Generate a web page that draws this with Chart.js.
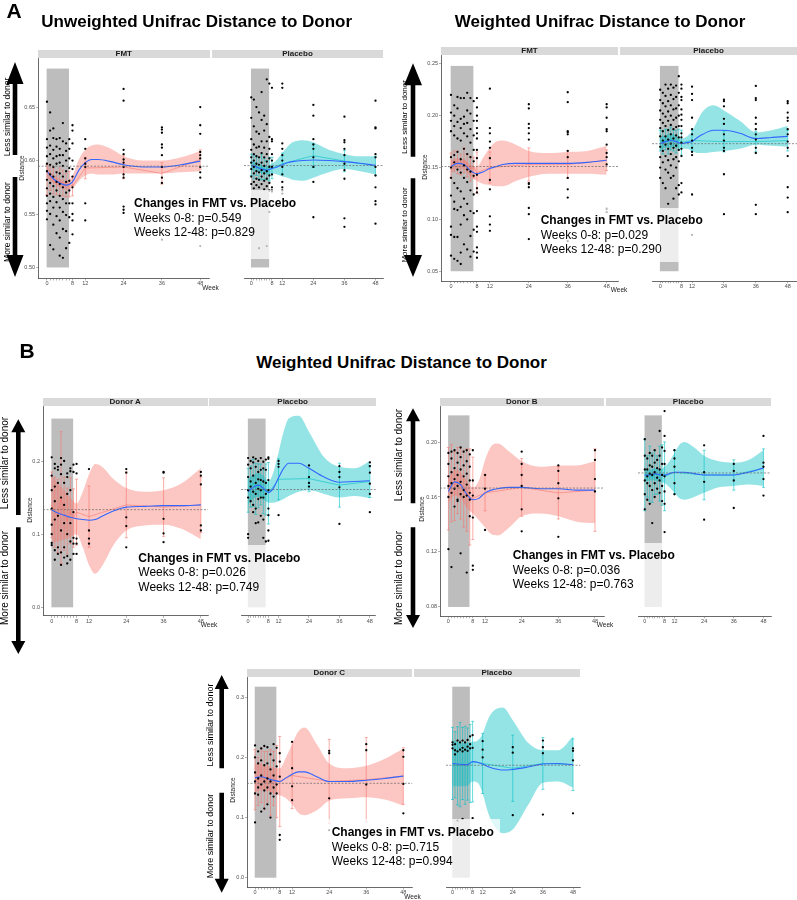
<!DOCTYPE html>
<html>
<head>
<meta charset="utf-8">
<script src="https://cdn.jsdelivr.net/npm/chart.js@4.4.1/dist/chart.umd.min.js"></script>
<style>
html, body { margin: 0; padding: 0; overflow: hidden; background: #fff; }
#fig { position: relative; width: 797px; height: 900px; font-family: "Liberation Sans", Arial, sans-serif; color: #000; }
#fig canvas { position: absolute; }
.t { position: absolute; white-space: nowrap; line-height: 1; }
.c { transform: translate(-50%, -50%); }
.r { transform: translate(-50%, -50%) rotate(-90deg); }
.strip { position: absolute; background: #d9d9d9; color: #1a1a1a; font-weight: bold; font-size: 8px; text-align: center; }
.note { position: absolute; background: rgba(255, 255, 255, 0.72); z-index: 5; }
.nl { position: absolute; white-space: nowrap; font-size: 12px; line-height: 1; transform: translateY(-50%); z-index: 6; }
svg { position: absolute; left: 0; top: 0; }
</style>
</head>
<body>
<div id="fig"></div>
<script>
// ---- data ----
var visitWeeks = [0, 1, 2, 3, 4, 5, 6, 7, 8, 12, 24, 36, 48];
var fitWeeks = [0, 2, 4, 6, 8, 10, 12, 14, 16, 20, 24, 30, 36, 42, 48];
var xTickWeeks = [0, 1, 2, 3, 4, 5, 6, 7, 8, 12, 24, 36, 48];
var xTickLabels = ['0', '', '', '', '', '', '', '', '8', '12', '24', '36', '48'];

var unwYTicks = [0.50, 0.55, 0.60, 0.65];
var unwYLabels = ['0.50', '0.55', '0.60', '0.65'];
var wYTicks = [0.05, 0.10, 0.15, 0.20, 0.25];
var wYLabels = ['0.05', '0.10', '0.15', '0.20', '0.25'];
var daYTicks = [0.0, 0.1, 0.2];
var daYLabels = ['0.0', '0.1', '0.2'];
var dbYTicks = [0.08, 0.12, 0.16, 0.20];
var dbYLabels = ['0.08', '0.12', '0.16', '0.20'];
var dcYTicks = [0.0, 0.1, 0.2, 0.3];
var dcYLabels = ['0.0', '0.1', '0.2', '0.3'];

// reference (dashed) lines: [FMT/donor facet, placebo facet]
var unwRef = [0.5947, 0.5953];
var wRef = [0.151, 0.173];
var daRef = [0.1335, 0.161];
var dbRef = [0.1665, 0.1775];
var dcRef = [0.157, 0.187];

// shaded weeks 0-8 window: [week from, week to, distance from, distance to]
var unwShade = [-0.1, 6.9, 0.50, 0.686];
var wShade = [-0.1, 6.9, 0.05, 0.248];
var daShade = [-0.1, 6.9, 0.0, 0.258];
var dbShade = [-0.1, 6.9, 0.08, 0.2194];
var dcShade = [-0.1, 6.9, 0.0, 0.3177];

var unwP = ['0.549', '0.829'];
var wP = ['0.029', '0.290'];
var daP = ['0.026', '0.749'];
var dbP = ['0.036', '0.763'];
var dcP = ['0.715', '0.994'];

// Unweighted, FMT
var unwFmtPts = [
  [0.655, 0.620, 0.612, 0.604, 0.597, 0.590, 0.582, 0.574, 0.567, 0.560, 0.553, 0.545],
  [0.645, 0.628, 0.614, 0.606, 0.596, 0.587, 0.579, 0.569, 0.562, 0.550, 0.521],
  [0.630, 0.621, 0.610, 0.602, 0.594, 0.585, 0.576, 0.566, 0.556, 0.540, 0.517],
  [0.620, 0.613, 0.604, 0.597, 0.589, 0.580, 0.572, 0.561, 0.548, 0.532],
  [0.621, 0.611, 0.605, 0.598, 0.588, 0.578, 0.567, 0.556, 0.544, 0.528, 0.511],
  [0.635, 0.618, 0.605, 0.595, 0.585, 0.575, 0.564, 0.552, 0.536, 0.509],
  [0.616, 0.609, 0.600, 0.590, 0.580, 0.570, 0.560, 0.549, 0.534, 0.518],
  [0.620, 0.611, 0.602, 0.593, 0.581, 0.572, 0.560, 0.547, 0.523],
  [0.633, 0.628, 0.616, 0.600, 0.592, 0.585, 0.575, 0.560, 0.550, 0.544, 0.531],
  [0.620, 0.611, 0.602, 0.597, 0.594, 0.560, 0.544],
  [0.667, 0.656, 0.610, 0.606, 0.601, 0.598, 0.594, 0.587, 0.584, 0.557, 0.554, 0.551],
  [0.631, 0.629, 0.626, 0.615, 0.612, 0.605, 0.594, 0.584, 0.579, 0.526],
  [0.650, 0.633, 0.625, 0.608, 0.605, 0.602, 0.594, 0.589, 0.584, 0.520]
];
var unwFmtMean = [0.582, 0.584, 0.581, 0.579, 0.580, 0.579, 0.577, 0.578, 0.576, 0.593, 0.594, 0.588, 0.601];
var unwFmtErr = [0.014, 0.012, 0.012, 0.011, 0.013, 0.012, 0.011, 0.012, 0.009, 0.010, 0.011, 0.010, 0.009];
var unwFmtFit = [0.590, 0.583, 0.579, 0.577, 0.580, 0.591, 0.598, 0.601, 0.601, 0.599, 0.596, 0.594, 0.594, 0.596, 0.5995];
var unwFmtHi = [0.595, 0.587, 0.583, 0.581, 0.586, 0.601, 0.610, 0.614, 0.615, 0.611, 0.604, 0.600, 0.600, 0.603, 0.609];
var unwFmtLo = [0.585, 0.579, 0.575, 0.573, 0.574, 0.581, 0.586, 0.588, 0.587, 0.587, 0.588, 0.588, 0.588, 0.589, 0.590];

// Unweighted, placebo
var unwPboPts = [
  [0.659, 0.640, 0.620, 0.610, 0.603, 0.598, 0.592, 0.585, 0.578],
  [0.657, 0.632, 0.615, 0.606, 0.600, 0.594, 0.588, 0.580, 0.574],
  [0.650, 0.627, 0.612, 0.604, 0.597, 0.590, 0.583, 0.577],
  [0.645, 0.625, 0.613, 0.603, 0.596, 0.589, 0.582, 0.575, 0.518],
  [0.664, 0.638, 0.618, 0.607, 0.598, 0.591, 0.585, 0.578],
  [0.642, 0.628, 0.612, 0.603, 0.595, 0.588, 0.581, 0.573],
  [0.676, 0.634, 0.618, 0.606, 0.599, 0.590, 0.583, 0.576, 0.520],
  [0.672, 0.622, 0.611, 0.602, 0.594, 0.586, 0.579, 0.572, 0.552],
  [0.668, 0.620, 0.618, 0.606, 0.600, 0.594, 0.587, 0.575, 0.572, 0.571],
  [0.672, 0.668, 0.616, 0.611, 0.605, 0.600, 0.594, 0.587, 0.580, 0.575, 0.572, 0.569],
  [0.652, 0.642, 0.620, 0.615, 0.611, 0.603, 0.594, 0.580, 0.547],
  [0.641, 0.619, 0.617, 0.611, 0.605, 0.597, 0.591, 0.583, 0.546, 0.538],
  [0.656, 0.631, 0.630, 0.606, 0.603, 0.594, 0.586, 0.575, 0.562, 0.559, 0.541]
];
var unwPboMean = [0.596, 0.594, 0.595, 0.593, 0.594, 0.592, 0.591, 0.592, 0.593, 0.597, 0.6045, 0.5995, 0.595];
var unwPboErr = [0.010, 0.011, 0.009, 0.010, 0.012, 0.010, 0.009, 0.011, 0.010, 0.010, 0.011, 0.010, 0.009];
var unwPboFit = [0.5955, 0.594, 0.592, 0.591, 0.5925, 0.594, 0.596, 0.598, 0.599, 0.600, 0.6005, 0.600, 0.599, 0.5975, 0.5955];
var unwPboHi = [0.600, 0.598, 0.596, 0.595, 0.597, 0.601, 0.607, 0.613, 0.617, 0.619, 0.617, 0.610, 0.606, 0.604, 0.604];
var unwPboLo = [0.591, 0.590, 0.588, 0.587, 0.588, 0.587, 0.585, 0.584, 0.582, 0.581, 0.584, 0.589, 0.592, 0.590, 0.587];

// Weighted, FMT
var wFmtPts = [
  [0.220, 0.203, 0.195, 0.185, 0.160, 0.150, 0.140, 0.123, 0.093, 0.085, 0.065],
  [0.210, 0.200, 0.190, 0.181, 0.162, 0.155, 0.135, 0.117, 0.110, 0.083, 0.062],
  [0.218, 0.207, 0.194, 0.178, 0.165, 0.148, 0.130, 0.109, 0.083, 0.060],
  [0.217, 0.197, 0.188, 0.176, 0.158, 0.145, 0.127, 0.112, 0.095, 0.068, 0.057],
  [0.217, 0.199, 0.192, 0.183, 0.168, 0.152, 0.140, 0.120, 0.104, 0.076],
  [0.222, 0.205, 0.193, 0.180, 0.163, 0.148, 0.136, 0.115, 0.100, 0.071],
  [0.217, 0.202, 0.187, 0.174, 0.160, 0.146, 0.128, 0.108, 0.084, 0.064],
  [0.214, 0.195, 0.181, 0.167, 0.156, 0.142, 0.124, 0.106, 0.090, 0.069],
  [0.217, 0.208, 0.200, 0.195, 0.188, 0.183, 0.178, 0.167, 0.159, 0.143, 0.130, 0.126, 0.108, 0.093, 0.088, 0.073, 0.068, 0.063],
  [0.226, 0.188, 0.183, 0.175, 0.169, 0.159, 0.138, 0.129, 0.103, 0.095, 0.089],
  [0.211, 0.207, 0.192, 0.188, 0.183, 0.177, 0.135, 0.134, 0.131, 0.111, 0.105, 0.081],
  [0.2226, 0.213, 0.185, 0.184, 0.182, 0.166, 0.160, 0.140, 0.129, 0.121, 0.079],
  [0.211, 0.208, 0.198, 0.187, 0.185, 0.172, 0.164, 0.160, 0.153, 0.110, 0.107]
];
var wFmtMean = [0.152, 0.156, 0.155, 0.153, 0.157, 0.152, 0.149, 0.150, 0.145, 0.150, 0.153, 0.153, 0.157];
var wFmtErr = [0.012, 0.010, 0.011, 0.010, 0.012, 0.011, 0.012, 0.010, 0.020, 0.015, 0.016, 0.013, 0.010];
var wFmtFit = [0.151, 0.154, 0.153, 0.147, 0.144, 0.146, 0.149, 0.151, 0.153, 0.154, 0.154, 0.154, 0.154, 0.155, 0.157];
var wFmtHi = [0.157, 0.159, 0.158, 0.153, 0.151, 0.160, 0.169, 0.175, 0.176, 0.172, 0.166, 0.164, 0.165, 0.166, 0.171];
var wFmtLo = [0.145, 0.149, 0.148, 0.141, 0.137, 0.134, 0.133, 0.132, 0.132, 0.137, 0.141, 0.144, 0.144, 0.144, 0.143];

// Weighted, placebo
var wPboPts = [
  [0.225, 0.215, 0.205, 0.196, 0.188, 0.180, 0.170, 0.160, 0.150, 0.140],
  [0.222, 0.212, 0.202, 0.193, 0.185, 0.176, 0.166, 0.155, 0.135],
  [0.230, 0.219, 0.209, 0.199, 0.190, 0.180, 0.172, 0.161, 0.148, 0.130],
  [0.226, 0.214, 0.204, 0.195, 0.186, 0.177, 0.168, 0.157, 0.145, 0.115],
  [0.230, 0.220, 0.210, 0.200, 0.191, 0.182, 0.173, 0.163, 0.152, 0.140],
  [0.227, 0.216, 0.206, 0.196, 0.187, 0.178, 0.169, 0.158, 0.142, 0.120],
  [0.229, 0.218, 0.207, 0.198, 0.189, 0.181, 0.171, 0.160, 0.150, 0.130],
  [0.238, 0.222, 0.210, 0.200, 0.190, 0.179, 0.167, 0.156, 0.133, 0.124],
  [0.230, 0.226, 0.218, 0.215, 0.206, 0.201, 0.196, 0.190, 0.183, 0.179, 0.174, 0.168, 0.161, 0.135, 0.126],
  [0.228, 0.221, 0.215, 0.198, 0.187, 0.182, 0.176, 0.169, 0.165, 0.162, 0.124, 0.085],
  [0.2155, 0.214, 0.209, 0.197, 0.192, 0.182, 0.176, 0.169, 0.166, 0.1435, 0.105],
  [0.2287, 0.217, 0.215, 0.198, 0.192, 0.187, 0.182, 0.177, 0.169, 0.164, 0.114, 0.105],
  [0.214, 0.212, 0.203, 0.198, 0.195, 0.187, 0.182, 0.175, 0.169, 0.161, 0.131, 0.121, 0.107]
];
var wPboMean = [0.176, 0.174, 0.177, 0.175, 0.178, 0.176, 0.175, 0.177, 0.174, 0.176, 0.175, 0.175, 0.176];
var wPboErr = [0.010, 0.011, 0.010, 0.012, 0.011, 0.010, 0.011, 0.010, 0.012, 0.010, 0.010, 0.010, 0.010];
var wPboFit = [0.173, 0.175, 0.176, 0.175, 0.173, 0.174, 0.175, 0.179, 0.182, 0.186, 0.186, 0.183, 0.178, 0.179, 0.180];
var wPboHi = [0.180, 0.181, 0.183, 0.181, 0.178, 0.180, 0.185, 0.195, 0.204, 0.210, 0.205, 0.195, 0.184, 0.186, 0.190];
var wPboLo = [0.166, 0.169, 0.169, 0.169, 0.168, 0.168, 0.166, 0.164, 0.164, 0.165, 0.166, 0.168, 0.172, 0.171, 0.170];

// Donor A
var daFmtPts = [
  [0.205, 0.180, 0.160, 0.135, 0.113, 0.100, 0.088, 0.085],
  [0.196, 0.190, 0.165, 0.145, 0.120, 0.078, 0.065],
  [0.192, 0.188, 0.170, 0.125, 0.082, 0.073],
  [0.204, 0.195, 0.182, 0.150, 0.105, 0.075, 0.058],
  [0.200, 0.170, 0.140, 0.115, 0.082, 0.068],
  [0.183, 0.178, 0.155, 0.100, 0.070, 0.060],
  [0.190, 0.186, 0.160, 0.115, 0.090, 0.065],
  [0.195, 0.185, 0.130, 0.095, 0.087, 0.073],
  [0.196, 0.183, 0.094, 0.087, 0.073],
  [0.189, 0.105, 0.094, 0.087],
  [0.189, 0.184, 0.123, 0.111, 0.082],
  [0.185, 0.184, 0.121, 0.101, 0.089],
  [0.185, 0.180, 0.168, 0.112, 0.105]
];
var daFmtMean = [0.140, 0.130, 0.125, 0.150, 0.128, 0.118, 0.132, 0.122, 0.130, 0.124, 0.140, 0.137, 0.140];
var daFmtErr = [0.045, 0.048, 0.050, 0.090, 0.050, 0.045, 0.045, 0.040, 0.045, 0.042, 0.045, 0.040, 0.038];
var daFmtFit = [0.133, 0.129, 0.126, 0.123, 0.121, 0.120, 0.119, 0.120, 0.124, 0.132, 0.137, 0.138, 0.139, 0.139, 0.140];
var daFmtHi = [0.180, 0.170, 0.160, 0.150, 0.142, 0.158, 0.182, 0.196, 0.193, 0.175, 0.163, 0.158, 0.160, 0.170, 0.190];
var daFmtLo = [0.088, 0.090, 0.093, 0.096, 0.100, 0.082, 0.058, 0.046, 0.055, 0.086, 0.105, 0.112, 0.113, 0.107, 0.093];

var daPboPts = [
  [0.204, 0.195, 0.178, 0.160, 0.150, 0.100, 0.095],
  [0.200, 0.190, 0.172, 0.165, 0.145],
  [0.205, 0.198, 0.180, 0.158, 0.140, 0.130],
  [0.203, 0.192, 0.170, 0.155, 0.135, 0.115],
  [0.200, 0.185, 0.175, 0.162, 0.148, 0.116],
  [0.204, 0.188, 0.174, 0.160, 0.150, 0.125],
  [0.199, 0.190, 0.172, 0.150, 0.120, 0.095],
  [0.202, 0.188, 0.170, 0.155, 0.090],
  [0.205, 0.203, 0.174, 0.160, 0.135, 0.126, 0.105, 0.091],
  [0.200, 0.196, 0.192, 0.126],
  [0.194, 0.178, 0.170, 0.165],
  [0.193, 0.185, 0.178, 0.164, 0.114],
  [0.198, 0.193, 0.184, 0.169, 0.155, 0.130]
];
var daPboMean = [0.160, 0.165, 0.170, 0.162, 0.166, 0.168, 0.158, 0.161, 0.156, 0.175, 0.176, 0.167, 0.172];
var daPboErr = [0.030, 0.028, 0.032, 0.035, 0.030, 0.028, 0.030, 0.035, 0.042, 0.028, 0.018, 0.030, 0.022];
var daPboFit = [0.158, 0.164, 0.167, 0.163, 0.157, 0.163, 0.177, 0.190, 0.197, 0.197, 0.190, 0.178, 0.171, 0.172, 0.173];
var daPboHi = [0.176, 0.181, 0.184, 0.180, 0.172, 0.185, 0.212, 0.240, 0.258, 0.262, 0.240, 0.205, 0.192, 0.190, 0.200];
var daPboLo = [0.140, 0.148, 0.151, 0.147, 0.143, 0.143, 0.145, 0.148, 0.152, 0.158, 0.160, 0.155, 0.150, 0.152, 0.149];

// Donor B
var dbFmtPts = [
  [0.192, 0.184, 0.175, 0.168, 0.160, 0.122],
  [0.193, 0.188, 0.178, 0.170, 0.163, 0.109],
  [0.194, 0.181, 0.173, 0.166, 0.153],
  [0.192, 0.185, 0.176, 0.168, 0.158, 0.157],
  [0.196, 0.189, 0.180, 0.171, 0.162, 0.119],
  [0.193, 0.183, 0.175, 0.165, 0.160],
  [0.194, 0.186, 0.177, 0.169, 0.161, 0.105],
  [0.191, 0.182, 0.172, 0.163, 0.158, 0.146],
  [0.194, 0.172, 0.161, 0.145, 0.110, 0.107],
  [0.176, 0.166, 0.136],
  [0.193, 0.184, 0.176, 0.168, 0.151, 0.135],
  [0.183, 0.179, 0.170, 0.159, 0.131],
  [0.194, 0.187, 0.173, 0.164]
];
var dbFmtMean = [0.166, 0.170, 0.168, 0.172, 0.170, 0.166, 0.165, 0.160, 0.159, 0.163, 0.167, 0.163, 0.165];
var dbFmtErr = [0.030, 0.028, 0.025, 0.024, 0.026, 0.028, 0.030, 0.035, 0.030, 0.013, 0.021, 0.019, 0.030];
var dbFmtFit = [0.164, 0.171, 0.169, 0.162, 0.158, 0.159, 0.163, 0.165, 0.166, 0.167, 0.167, 0.166, 0.166, 0.165, 0.165];
var dbFmtHi = [0.174, 0.180, 0.178, 0.172, 0.167, 0.172, 0.187, 0.197, 0.199, 0.193, 0.186, 0.182, 0.183, 0.183, 0.186];
var dbFmtLo = [0.155, 0.161, 0.159, 0.152, 0.148, 0.143, 0.138, 0.133, 0.132, 0.138, 0.146, 0.148, 0.146, 0.142, 0.141];

var dbPboPts = [
  [0.202, 0.190, 0.180, 0.172, 0.162, 0.151],
  [0.188, 0.180, 0.175, 0.170, 0.158],
  [0.192, 0.183, 0.177, 0.168, 0.155],
  [0.190, 0.182, 0.176, 0.165, 0.141],
  [0.194, 0.185, 0.178, 0.170, 0.160],
  [0.187, 0.181, 0.174, 0.166],
  [0.208, 0.190, 0.180, 0.172, 0.163],
  [0.196, 0.184, 0.176, 0.168, 0.157],
  [0.2225, 0.2044, 0.1935, 0.184, 0.175, 0.164, 0.155, 0.1345],
  [0.194, 0.188, 0.182, 0.170, 0.162],
  [0.1976, 0.178, 0.171, 0.1435],
  [0.184, 0.179, 0.172, 0.152],
  [0.2044, 0.185, 0.182, 0.173, 0.161]
];
var dbPboMean = [0.176, 0.175, 0.177, 0.174, 0.178, 0.176, 0.177, 0.176, 0.175, 0.178, 0.176, 0.176, 0.181];
var dbPboErr = [0.026, 0.015, 0.020, 0.018, 0.016, 0.014, 0.020, 0.022, 0.025, 0.016, 0.018, 0.011, 0.014];
var dbPboFit = [0.176, 0.176, 0.177, 0.176, 0.176, 0.177, 0.178, 0.178, 0.178, 0.177, 0.176, 0.176, 0.176, 0.178, 0.181];
var dbPboHi = [0.181, 0.180, 0.181, 0.180, 0.182, 0.186, 0.192, 0.198, 0.200, 0.196, 0.190, 0.186, 0.185, 0.187, 0.194];
var dbPboLo = [0.171, 0.172, 0.172, 0.171, 0.170, 0.167, 0.163, 0.159, 0.158, 0.160, 0.163, 0.167, 0.168, 0.169, 0.168];

// Donor C
var dcFmtPts = [
  [0.220, 0.200, 0.175, 0.160, 0.140, 0.092],
  [0.210, 0.190, 0.165, 0.150, 0.138],
  [0.215, 0.195, 0.170, 0.155, 0.110],
  [0.219, 0.187, 0.160, 0.145, 0.115],
  [0.217, 0.190, 0.165, 0.150, 0.122],
  [0.205, 0.180, 0.160, 0.140, 0.100],
  [0.222, 0.195, 0.170, 0.150, 0.135],
  [0.216, 0.185, 0.155, 0.140],
  [0.207, 0.193, 0.168, 0.071, 0.063],
  [0.226, 0.182, 0.152, 0.129],
  [0.211, 0.207, 0.132, 0.079],
  [0.222, 0.212, 0.155],
  [0.212, 0.201, 0.156, 0.107]
];
var dcFmtMean = [0.163, 0.160, 0.170, 0.162, 0.168, 0.158, 0.165, 0.160, 0.160, 0.170, 0.160, 0.163, 0.169];
var dcFmtErr = [0.050, 0.040, 0.045, 0.048, 0.042, 0.055, 0.045, 0.060, 0.075, 0.055, 0.070, 0.070, 0.047];
var dcFmtFit = [0.166, 0.168, 0.165, 0.162, 0.160, 0.166, 0.172, 0.176, 0.176, 0.168, 0.160, 0.160, 0.162, 0.165, 0.169];
var dcFmtHi = [0.190, 0.189, 0.186, 0.183, 0.182, 0.200, 0.222, 0.243, 0.250, 0.222, 0.190, 0.182, 0.186, 0.198, 0.215];
var dcFmtLo = [0.142, 0.146, 0.144, 0.140, 0.137, 0.132, 0.122, 0.108, 0.104, 0.112, 0.128, 0.132, 0.134, 0.130, 0.120];

var dcPboPts = [
  [0.225, 0.221, 0.215],
  [0.222, 0.212, 0.205],
  [0.228, 0.210, 0.095],
  [0.225, 0.213],
  [0.228, 0.216, 0.210, 0.098],
  [0.225, 0.213],
  [0.229, 0.218, 0.211],
  [0.235, 0.222, 0.215],
  [0.237, 0.216, 0.099],
  [0.227, 0.213, 0.200],
  [0.217, 0.208, 0.104],
  [0.228, 0.217, 0.207, 0.105],
  [0.215, 0.211, 0.195, 0.107]
];
var dcPboMean = [0.190, 0.188, 0.186, 0.188, 0.190, 0.187, 0.189, 0.190, 0.193, 0.190, 0.182, 0.190, 0.188];
var dcPboErr = [0.060, 0.055, 0.065, 0.070, 0.060, 0.065, 0.060, 0.065, 0.067, 0.050, 0.055, 0.043, 0.043];
var dcPboFit = [0.190, 0.189, 0.188, 0.188, 0.193, 0.192, 0.189, 0.185, 0.182, 0.179, 0.180, 0.184, 0.189, 0.190, 0.188];
var dcPboHi = [0.228, 0.226, 0.224, 0.224, 0.226, 0.228, 0.240, 0.262, 0.276, 0.283, 0.262, 0.225, 0.212, 0.212, 0.235];
var dcPboLo = [0.152, 0.152, 0.152, 0.153, 0.160, 0.158, 0.140, 0.110, 0.090, 0.074, 0.080, 0.120, 0.158, 0.160, 0.150];

// ---- drawing ----
var FONT = '"Liberation Sans", Arial, sans-serif';
var PINK = { line: '#F8766D', fill: 'rgba(248, 118, 109, 0.42)' };
var CYAN = { line: '#00BFC4', fill: 'rgba(0, 191, 196, 0.42)' };
Chart.defaults.font.family = FONT;

var fig = document.getElementById('fig');

function xy(xs, ys) {
  return ys.map(function(v, i) { return { x: xs[i], y: v }; });
}

function columns(xs, cols) {
  var out = [];
  cols.forEach(function(col, i) {
    col.forEach(function(v) { out.push({ x: xs[i], y: v }); });
  });
  return out;
}

function addText(str, x, y, css, cls) {
  var d = document.createElement('div');
  d.className = 't ' + (cls || 'c');
  d.textContent = str;
  d.style.left = x + 'px';
  d.style.top = y + 'px';
  d.style.cssText += css || '';
  fig.appendChild(d);
  return d;
}

function extras(spec, f) {
  return {
    id: 'facetExtras',
    beforeDatasetsDraw: function(chart) {
      var x = chart.scales.x, y = chart.scales.y, ctx = chart.ctx;
      var x0 = x.getPixelForValue(spec.shade[0]), x1 = x.getPixelForValue(spec.shade[1]);
      var yTop = y.getPixelForValue(spec.shade[3]), yBot = y.getPixelForValue(spec.shade[2]);
      ctx.save();
      ctx.fillStyle = '#bdbdbd';
      ctx.fillRect(x0, yTop, x1 - x0, yBot - yTop);
      ctx.restore();
    },
    afterDatasetDraw: function(chart, args) {
      if (chart.data.datasets[args.index].label !== 'mean') return;
      var x = chart.scales.x, y = chart.scales.y, ctx = chart.ctx;
      ctx.save();
      ctx.strokeStyle = f.color.line;
      ctx.lineWidth = 0.6;
      visitWeeks.forEach(function(w, i) {
        var px = x.getPixelForValue(w);
        var top = y.getPixelForValue(f.mean[i] + f.err[i]);
        var bot = y.getPixelForValue(f.mean[i] - f.err[i]);
        ctx.beginPath();
        ctx.moveTo(px, top); ctx.lineTo(px, bot);
        ctx.moveTo(px - 1.5, top); ctx.lineTo(px + 1.5, top);
        ctx.moveTo(px - 1.5, bot); ctx.lineTo(px + 1.5, bot);
        ctx.stroke();
      });
      ctx.restore();
    },
    afterDatasetsDraw: function(chart) {
      var y = chart.scales.y, ctx = chart.ctx, area = chart.chartArea;
      var py = y.getPixelForValue(f.ref);
      ctx.save();
      ctx.strokeStyle = '#666';
      ctx.lineWidth = 0.7;
      ctx.setLineDash([2, 1.5]);
      ctx.beginPath();
      ctx.moveTo(area.left, py); ctx.lineTo(area.right, py);
      ctx.stroke();
      ctx.restore();
    }
  };
}

function facetChart(spec, f, showY) {
  var padL = 32, padT = 8, axisH = 12;
  var plotW = f.right - f.left, plotH = spec.bottom - spec.top;
  var cw = Math.ceil(plotW + padL + 8), ch = Math.ceil(plotH + padT + axisH + 4);
  var canvas = document.createElement('canvas');
  canvas.width = cw; canvas.height = ch;
  canvas.style.left = (f.left - padL) + 'px';
  canvas.style.top = (spec.top - padT) + 'px';
  canvas.style.width = cw + 'px';
  canvas.style.height = ch + 'px';
  fig.appendChild(canvas);

  var tickFont = { size: 5.5, family: FONT };
  new Chart(canvas, {
    type: 'scatter',
    data: {
      datasets: [
        { label: 'pts', data: columns(visitWeeks, f.pts), pointRadius: 1.15, pointBackgroundColor: '#000', pointBorderWidth: 0, order: 0 },
        { label: 'fit', type: 'line', data: xy(fitWeeks, f.fit), borderColor: '#3366FF', borderWidth: 1.1, pointRadius: 0, cubicInterpolationMode: 'monotone', fill: false, order: 1 },
        { label: 'mean', type: 'line', data: xy(visitWeeks, f.mean), borderColor: f.color.line, borderWidth: 0.6, pointRadius: 0, fill: false, order: 2 },
        { label: 'hi', type: 'line', data: xy(fitWeeks, f.hi), borderColor: 'rgba(0,0,0,0)', borderWidth: 0, pointRadius: 0, cubicInterpolationMode: 'monotone', fill: '+1', backgroundColor: f.color.fill, order: 3 },
        { label: 'lo', type: 'line', data: xy(fitWeeks, f.lo), borderColor: 'rgba(0,0,0,0)', borderWidth: 0, pointRadius: 0, cubicInterpolationMode: 'monotone', fill: false, order: 4 }
      ]
    },
    options: {
      responsive: false,
      animation: false,
      devicePixelRatio: 1,
      events: [],
      layout: { padding: { left: showY ? 0 : padL, top: padT, right: cw - padL - plotW, bottom: ch - padT - plotH - axisH } },
      plugins: { legend: { display: false }, tooltip: { enabled: false } },
      scales: {
        x: {
          type: 'linear', min: spec.xMin, max: spec.xMax,
          afterBuildTicks: function(ax) { ax.ticks = xTickWeeks.map(function(v) { return { value: v }; }); },
          afterFit: function(ax) { ax.height = axisH; },
          ticks: {
            autoSkip: false, maxRotation: 0, padding: 0, color: '#4d4d4d', font: tickFont,
            callback: function(v) { var i = xTickWeeks.indexOf(v); return i < 0 ? '' : xTickLabels[i]; }
          },
          grid: { drawOnChartArea: false, tickLength: 2, color: '#666', lineWidth: 0.5 },
          border: { display: true, color: '#444', width: 0.8 }
        },
        y: {
          type: 'linear', min: spec.yMin, max: spec.yMax, display: showY,
          afterBuildTicks: function(ax) { ax.ticks = spec.yTicks.map(function(v) { return { value: v }; }); },
          afterFit: function(ax) { ax.width = padL; },
          ticks: {
            padding: 1, color: '#4d4d4d', font: tickFont,
            callback: function(v) { var i = spec.yTicks.indexOf(v); return i < 0 ? '' : spec.yLabels[i]; }
          },
          grid: { drawOnChartArea: false, tickLength: 2, color: '#666', lineWidth: 0.5 },
          border: { display: true, color: '#444', width: 0.8 }
        }
      }
    },
    plugins: [extras(spec, f)]
  });
}

var panels = [
  {
    title: 'Unweighted Unifrac Distance to Donor', titleX: 196.7, titleY: 20.7,
    top: 57.5, bottom: 278, stripTop: 50, xMin: -2.8, xMax: 50.9, yMin: 0.4897, yMax: 0.6959,
    yTicks: unwYTicks, yLabels: unwYLabels, shade: unwShade,
    weekX: 210.5, weekY: 288, distX: 21.5, distY: 167.5,
    note: { left: 130, right: 305, top: 190, bottom: 259, textX: 134, lines: [202.7, 218.3, 232.3] }, p: unwP,
    arrow: { x: 15, upTail: 155, upTip: 62, dnTail: 177, dnTip: 277, headL: 22, headW: 17, textX: 7.3, lessY: 116.5, moreY: 222, size: 8.5 },
    facets: [
      { name: 'FMT', left: 38, right: 209.5, color: PINK, pts: unwFmtPts, mean: unwFmtMean, err: unwFmtErr, fit: unwFmtFit, hi: unwFmtHi, lo: unwFmtLo, ref: unwRef[0] },
      { name: 'Placebo', left: 212, right: 383, color: CYAN, pts: unwPboPts, mean: unwPboMean, err: unwPboErr, fit: unwPboFit, hi: unwPboHi, lo: unwPboLo, ref: unwRef[1] }
    ]
  },
  {
    title: 'Weighted Unifrac Distance to Donor', titleX: 600, titleY: 20.7,
    top: 54.5, bottom: 280.7, stripTop: 47, xMin: -3.08, xMax: 51.5, yMin: 0.0404, yMax: 0.2585,
    yTicks: wYTicks, yLabels: wYLabels, shade: wShade,
    weekX: 619, weekY: 290, distX: 425, distY: 167,
    note: { left: 536, right: 715, top: 208, bottom: 262, textX: 540.7, lines: [220, 235, 249.3] }, p: wP,
    arrow: { x: 413, upTail: 156.7, upTip: 63.3, dnTail: 178.3, dnTip: 277, headL: 22, headW: 18, textX: 405.3, lessY: 116.7, moreY: 225, size: 8 },
    facets: [
      { name: 'FMT', left: 441, right: 618, color: PINK, pts: wFmtPts, mean: wFmtMean, err: wFmtErr, fit: wFmtFit, hi: wFmtHi, lo: wFmtLo, ref: wRef[0] },
      { name: 'Placebo', left: 620, right: 797, color: CYAN, pts: wPboPts, mean: wPboMean, err: wPboErr, fit: wPboFit, hi: wPboHi, lo: wPboLo, ref: wRef[1] }
    ]
  },
  {
    top: 405.7, bottom: 615.5, stripTop: 397.5, xMin: -2.8, xMax: 50.3, yMin: -0.0116, yMax: 0.2752,
    yTicks: daYTicks, yLabels: daYLabels, shade: daShade,
    weekX: 209, weekY: 625, distX: 30.3, distY: 510,
    note: { left: 134, right: 305, top: 545, bottom: 608, textX: 138.3, lines: [558, 572, 586.7] }, p: daP,
    arrow: { x: 18.3, upTail: 515, upTip: 419.3, dnTail: 527.3, dnTip: 654, headL: 13, headW: 14, textX: 5, lessY: 463, moreY: 578, size: 10 },
    facets: [
      { name: 'Donor A', left: 42.7, right: 207.7, color: PINK, pts: daFmtPts, mean: daFmtMean, err: daFmtErr, fit: daFmtFit, hi: daFmtHi, lo: daFmtLo, ref: daRef[0] },
      { name: 'Placebo', left: 209.3, right: 376, color: CYAN, pts: daPboPts, mean: daPboMean, err: daPboErr, fit: daPboFit, hi: daPboHi, lo: daPboLo, ref: daRef[1] }
    ]
  },
  {
    top: 405.7, bottom: 616, stripTop: 397.5, xMin: -2.75, xMax: 51.05, yMin: 0.0732, yMax: 0.2262,
    yTicks: dbYTicks, yLabels: dbYLabels, shade: dbShade,
    weekX: 605, weekY: 625, distX: 422, distY: 509,
    note: { left: 508, right: 680, top: 543, bottom: 608, textX: 512.7, lines: [555, 570, 584] }, p: dbP,
    arrow: { x: 413, upTail: 503.3, upTip: 408.3, dnTail: 527.3, dnTip: 628, headL: 13, headW: 14, textX: 399, lessY: 455, moreY: 578, size: 10 },
    facets: [
      { name: 'Donor B', left: 439.7, right: 604, color: PINK, pts: dbFmtPts, mean: dbFmtMean, err: dbFmtErr, fit: dbFmtFit, hi: dbFmtHi, lo: dbFmtLo, ref: dbRef[0] },
      { name: 'Placebo', left: 605.7, right: 770.7, color: CYAN, pts: dbPboPts, mean: dbPboMean, err: dbPboErr, fit: dbPboFit, hi: dbPboHi, lo: dbPboLo, ref: dbRef[1] }
    ]
  },
  {
    top: 677, bottom: 887.5, stripTop: 669.3, xMin: -2.6, xMax: 50.9, yMin: -0.0163, yMax: 0.3338,
    yTicks: dcYTicks, yLabels: dcYLabels, shade: dcShade,
    weekX: 412.5, weekY: 896.5, distX: 233, distY: 790,
    note: { left: 327, right: 500, top: 819, bottom: 880, textX: 331.7, lines: [832.3, 846.7, 860.7] }, p: dcP,
    arrow: { x: 221.7, upTail: 768.3, upTip: 675, dnTail: 792.7, dnTip: 892.7, headL: 14, headW: 14, textX: 210.3, lessY: 725, moreY: 835.5, size: 9 },
    facets: [
      { name: 'Donor C', left: 246.7, right: 412, color: PINK, pts: dcFmtPts, mean: dcFmtMean, err: dcFmtErr, fit: dcFmtFit, hi: dcFmtHi, lo: dcFmtLo, ref: dcRef[0] },
      { name: 'Placebo', left: 413.7, right: 580, color: CYAN, pts: dcPboPts, mean: dcPboMean, err: dcPboErr, fit: dcPboFit, hi: dcPboHi, lo: dcPboLo, ref: dcRef[1] }
    ]
  }
];

var svgNS = 'http://www.w3.org/2000/svg';
var svg = document.createElementNS(svgNS, 'svg');
svg.setAttribute('width', 797);
svg.setAttribute('height', 900);
fig.appendChild(svg);

function arrow(cx, tail, tip, headL, headW) {
  var d = tip > tail ? 1 : -1, sw = 4.6, base = tip - d * headL;
  var pts = [
    [cx - sw / 2, tail], [cx - sw / 2, base], [cx - headW / 2, base], [cx, tip],
    [cx + headW / 2, base], [cx + sw / 2, base], [cx + sw / 2, tail]
  ];
  var poly = document.createElementNS(svgNS, 'polygon');
  poly.setAttribute('points', pts.map(function(p) { return p.join(','); }).join(' '));
  poly.setAttribute('fill', '#000');
  svg.appendChild(poly);
}

panels.forEach(function(spec) {
  spec.facets.forEach(function(f, i) {
    facetChart(spec, f, i === 0);
    var s = document.createElement('div');
    s.className = 'strip';
    s.textContent = f.name;
    s.style.left = f.left + 'px';
    s.style.width = (f.right - f.left) + 'px';
    s.style.top = spec.stripTop + 'px';
    s.style.height = (spec.top - spec.stripTop) + 'px';
    s.style.lineHeight = (spec.top - spec.stripTop) + 'px';
    fig.appendChild(s);
  });

  addText('Week', spec.weekX, spec.weekY, 'font-size:6.5px;color:#1a1a1a;');
  addText('Distance', spec.distX, spec.distY, 'font-size:6.5px;color:#1a1a1a;', 'r');

  var n = spec.note;
  var box = document.createElement('div');
  box.className = 'note';
  box.style.left = n.left + 'px';
  box.style.top = n.top + 'px';
  box.style.width = (n.right - n.left) + 'px';
  box.style.height = (n.bottom - n.top) + 'px';
  fig.appendChild(box);
  var lines = ['Changes in FMT vs. Placebo', 'Weeks 0-8: p=' + spec.p[0], 'Weeks 12-48: p=' + spec.p[1]];
  lines.forEach(function(str, i) {
    var l = document.createElement('div');
    l.className = 'nl';
    l.textContent = str;
    l.style.left = n.textX + 'px';
    l.style.top = n.lines[i] + 'px';
    if (i === 0) l.style.fontWeight = 'bold';
    fig.appendChild(l);
  });

  var a = spec.arrow;
  arrow(a.x, a.upTail, a.upTip, a.headL, a.headW);
  arrow(a.x, a.dnTail, a.dnTip, a.headL, a.headW);
  addText('Less similar to donor', a.textX, a.lessY, 'font-size:' + a.size + 'px;', 'r');
  addText('More similar to donor', a.textX, a.moreY, 'font-size:' + a.size + 'px;', 'r');

  if (spec.title) addText(spec.title, spec.titleX, spec.titleY, 'font-size:17px;font-weight:bold;');
});

addText('A', 14, 9.5, 'font-size:21px;font-weight:bold;');
addText('B', 27, 349.5, 'font-size:21px;font-weight:bold;');
addText('Weighted Unifrac Distance to Donor', 401.5, 361.7, 'font-size:17px;font-weight:bold;');
</script>
</body>
</html>
